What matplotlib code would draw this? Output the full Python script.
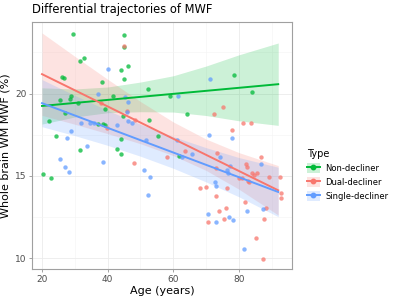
import matplotlib
matplotlib.use("Agg")
import matplotlib.pyplot as plt
from matplotlib.lines import Line2D
from matplotlib.patches import Patch

# scatter data (age, MWF)
non_age = [20.4, 22.2, 22.7, 24.2, 25.5, 26.1, 26.8, 27.0, 28.6, 28.8, 29.3, 31.1, 31.5,
           31.7, 32.7, 37.0, 38.4, 38.5, 39.2, 39.2, 41.6, 43.0, 44.0, 44.1, 44.1, 44.6,
           44.9, 45.1, 45.1, 46.3, 52.4, 52.6, 55.5, 59.1, 61.7, 64.1, 78.5, 84.1]
non_mwf = [15.14, 18.32, 14.86, 17.41, 19.60, 21.00, 20.93, 18.81, 19.70, 19.86, 23.63, 19.42, 16.60,
           21.97, 22.13, 18.14, 20.71, 18.18, 19.05, 18.08, 19.88, 16.66, 16.32, 17.23, 21.42, 18.64,
           22.80, 23.57, 20.91, 21.70, 20.27, 18.40, 17.41, 19.86, 16.21, 18.77, 21.15, 20.08]

dual_age = [38.0, 39.7, 45.0, 45.8, 48.1, 48.4, 58.0, 63.5, 68.1, 70.0, 70.7, 72.5, 72.9, 73.1,
            73.4, 74.0, 75.1, 75.6, 76.2, 76.4, 77.8, 80.0, 81.0, 81.3, 82.0, 82.1, 82.5, 82.7,
            83.0, 83.8, 84.0, 84.7, 85.3, 85.6, 86.8, 87.6, 87.5, 88.2, 89.2, 92.4, 92.8, 92.8]
dual_mwf = [19.42, 17.90, 22.90, 18.97, 15.77, 18.38, 16.17, 16.52, 14.25, 14.36, 12.20, 18.77, 15.50, 13.78,
            16.41, 12.89, 19.21, 12.42, 13.07, 14.29, 17.81, 14.88, 14.88, 18.24, 13.41, 15.75, 15.53, 14.70,
            14.62, 18.24, 15.16, 15.07, 11.25, 15.20, 16.15, 12.40, 9.95, 13.04, 14.96, 14.96, 13.95, 13.68]

single_age = [25.6, 27.1, 27.5, 28.3, 28.9, 31.9, 33.7, 34.6, 35.7, 37.2, 38.6, 40.1, 42.9, 45.3,
              45.9, 46.1, 46.3, 47.5, 51.1, 51.7, 52.3, 53.0, 61.1, 61.3, 62.6, 65.7, 70.6, 71.0,
              71.2, 72.6, 73.0, 73.1, 74.4, 76.5, 76.6, 76.9, 77.3, 77.9, 78.3, 81.5, 82.6, 86.7, 87.3]
single_mwf = [16.03, 15.57, 17.31, 15.25, 17.73, 18.24, 16.82, 18.24, 18.24, 19.98, 15.87, 21.48, 18.08, 19.82,
              18.89, 18.34, 19.48, 18.22, 15.35, 17.19, 13.85, 14.92, 17.17, 19.86, 16.17, 16.34, 12.69, 17.47,
              20.91, 14.65, 14.41, 12.23, 16.16, 15.36, 15.20, 12.52, 15.61, 17.33, 12.34, 10.55, 12.89, 15.75, 12.98]

# fitted lines and confidence bands, read at these ages
band_age = [20, 30, 40, 50, 60, 70, 80, 92]
non_fit = [19.25, 19.43, 19.62, 19.80, 19.98, 20.17, 20.35, 20.57]
non_lo = [18.15, 18.58, 18.84, 18.90, 18.88, 18.67, 18.35, 18.07]
non_hi = [20.35, 20.28, 20.40, 20.70, 21.08, 21.67, 22.35, 23.07]
dual_fit = [21.18, 20.20, 19.22, 18.24, 17.26, 16.29, 15.31, 14.13]
dual_lo = [18.68, 18.14, 17.57, 16.96, 16.24, 15.34, 14.20, 12.63]
dual_hi = [23.68, 22.26, 20.87, 19.52, 18.28, 17.24, 16.42, 15.63]
single_fit = [19.42, 18.67, 17.92, 17.17, 16.43, 15.68, 14.93, 14.03]
single_lo = [17.99, 17.45, 16.86, 16.20, 15.47, 14.64, 13.74, 12.53]
single_hi = [20.85, 19.89, 18.98, 18.14, 17.39, 16.72, 16.12, 15.53]

colors = {"Non-decliner": "#00BA38", "Dual-decliner": "#F8766D", "Single-decliner": "#619CFF"}

groups = [
    ("Non-decliner", non_age, non_mwf, non_fit, non_lo, non_hi),
    ("Dual-decliner", dual_age, dual_mwf, dual_fit, dual_lo, dual_hi),
    ("Single-decliner", single_age, single_mwf, single_fit, single_lo, single_hi),
]

fig = plt.figure(figsize=(4, 3), dpi=100)
ax = fig.add_axes([0.08, 0.103, 0.65, 0.824])

for name, ages, vals, fit, lo, hi in groups:
    c = colors[name]
    ax.scatter(ages, vals, s=10, color=c, alpha=0.75, linewidths=0, zorder=3)

for name, ages, vals, fit, lo, hi in groups:
    c = colors[name]
    ax.fill_between(band_age, lo, hi, color=c, alpha=0.2, linewidth=0, zorder=2)
    ax.plot([band_age[0], band_age[-1]], [fit[0], fit[-1]], color=c, lw=1.4, zorder=4)

ax.set_xlim(16.95, 96.2)
ax.set_ylim(9.35, 24.35)
ax.set_xticks([20, 40, 60, 80])
ax.set_xticks([30, 50, 70, 90], minor=True)
ax.set_yticks([10, 15, 20])
ax.set_yticks([12.5, 17.5, 22.5], minor=True)
ax.grid(True, which="major", color="#EBEBEB", lw=0.6, zorder=0)
ax.grid(True, which="minor", color="#F4F4F4", lw=0.4, zorder=0)
ax.set_axisbelow(True)
for sp in ax.spines.values():
    sp.set_color("#A0A0A0")
    sp.set_linewidth(0.8)
ax.tick_params(which="major", length=2.5, width=0.5, color="#7F7F7F", labelsize=6.5,
               labelcolor="#4D4D4D", pad=1.5)
ax.tick_params(which="minor", length=0)

ax.set_xlabel("Age (years)", fontsize=8, labelpad=2)
ax.set_ylabel("Whole brain WM MWF (%)", fontsize=8, labelpad=3)
fig.text(0.08, 0.945, "Differential trajectories of MWF", fontsize=8.3, ha="left", va="bottom")

handles = []
for name, *_ in groups:
    c = colors[name]
    handles.append((Patch(facecolor=c, alpha=0.2, edgecolor="none"),
                    Line2D([], [], color=c, lw=1.4, marker="o", markersize=3.2)))
leg = fig.legend(handles, [g[0] for g in groups], title="Type", loc="upper left",
                 bbox_to_anchor=(0.748, 0.528), frameon=False, fontsize=6,
                 title_fontsize=7, handlelength=1.6, handleheight=1.5,
                 labelspacing=0.45, handletextpad=0.6)
leg._legend_box.align = "left"

fig.savefig("out.png", dpi=100)
